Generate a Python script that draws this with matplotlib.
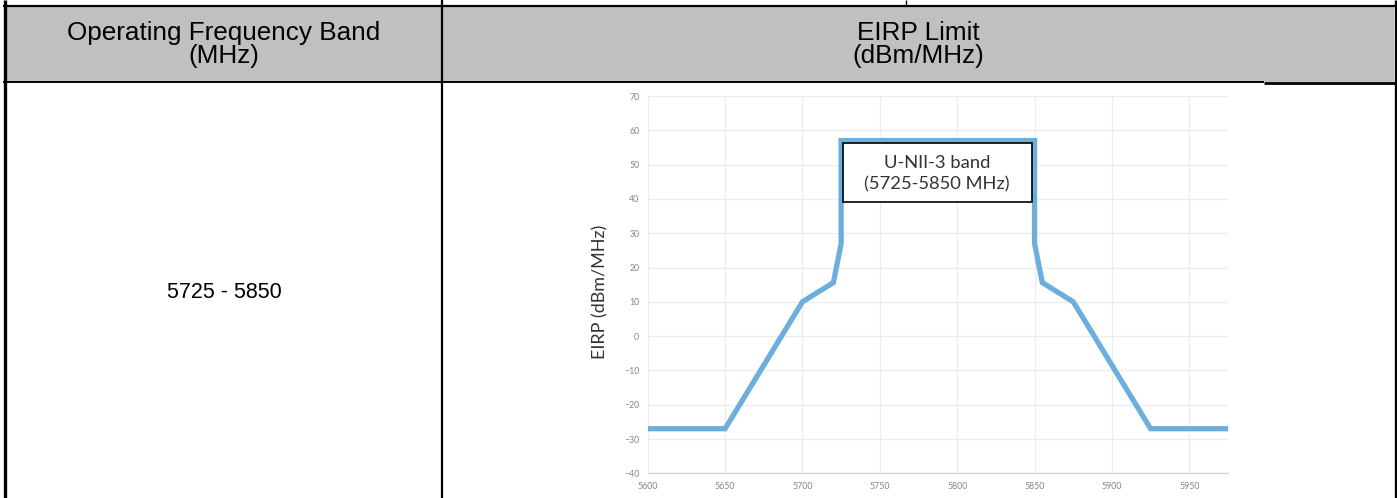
import matplotlib
matplotlib.use("Agg")
import matplotlib.pyplot as plt
from matplotlib.patches import Rectangle

# table text
col_headers = [("Operating Frequency Band", "(MHz)"), ("EIRP Limit", "(dBm/MHz)")]
band_label = "5725 - 5850"

# EIRP mask for U-NII-3
freq = [5600, 5650, 5700, 5720, 5725, 5725, 5850, 5850, 5855, 5875, 5925, 5975]
eirp = [-27, -27, 10, 15.6, 27, 57, 57, 27, 15.6, 10, -27, -27]
x_ticks = [5600, 5650, 5700, 5750, 5800, 5850, 5900, 5950]
y_ticks = [-40, -30, -20, -10, 0, 10, 20, 30, 40, 50, 60, 70]
box_text = "U-NII-3 band\n(5725-5850 MHz)"

W, H = 1397, 498
fig = plt.figure(figsize=(W / 100, H / 100), dpi=100)

# --- table drawn in pixel coordinates
tab = fig.add_axes([0, 0, 1, 1])
tab.set_xlim(0, W)
tab.set_ylim(H, 0)
tab.axis("off")

tab.add_patch(Rectangle((6, 7), 1388, 75, facecolor="#c0c0c0", edgecolor="none"))
k = dict(color="black", solid_capstyle="butt")
tab.plot([4.5, 4.5], [0, H], lw=2.4, **k)
tab.plot([1395.5, 1395.5], [0, H], lw=2.4, **k)
tab.plot([442, 442], [0, H], lw=1.6, **k)
tab.plot([906, 906], [0, 6], lw=1.0, **k)
tab.plot([3, 1397], [6, 6], lw=1.6, **k)
tab.plot([3, 1264], [82, 82], lw=1.4, **k)
tab.plot([1264, 1397], [83, 83], lw=2.0, **k)

hfont = dict(family="Liberation Sans", fontsize=18.8, color="black", ha="center")
tab.text(224, 40, col_headers[0][0], va="baseline", **hfont)
tab.text(224, 63, col_headers[0][1], va="baseline", **hfont)
tab.text(918, 40, col_headers[1][0], va="baseline", **hfont)
tab.text(918, 63, col_headers[1][1], va="baseline", **hfont)
tab.text(224, 292, band_label, va="center", family="Liberation Sans",
         fontsize=15.5, color="black", ha="center")

# --- the EIRP chart
ax = fig.add_axes([647.7 / W, 1 - 473.3 / H, (1228 - 647.7) / W, (473.3 - 96) / H])
ax.plot(freq, eirp, color="#6cafdc", lw=3.8, solid_joinstyle="miter", zorder=3)
ax.set_xlim(5600, 5975)
ax.set_ylim(-40, 70)
ax.set_xticks(x_ticks)
ax.set_yticks(y_ticks)
ax.grid(True, color="#ececec", lw=0.9)
ax.set_axisbelow(True)
for s in ["top", "right", "left"]:
    ax.spines[s].set_visible(False)
ax.spines["bottom"].set_color("#d6d6d6")
ax.spines["bottom"].set_linewidth(0.9)
ax.tick_params(length=0, labelsize=6.3, labelcolor="#858585", pad=6)
for lab in ax.get_xticklabels() + ax.get_yticklabels():
    lab.set_family("Lato")

ax.text(-0.082, 0.48, "EIRP (dBm/MHz)", transform=ax.transAxes, rotation=90,
        ha="center", va="center", family="Lato", fontsize=13, color="#333333")

ax.add_patch(Rectangle((5726, 39.2), 122.4, 17.0, facecolor="white",
                       edgecolor="black", lw=1.2, zorder=4))
ax.text(5787, 47.4, box_text, ha="center", va="center", family="Lato",
        fontsize=13.2, color="#333333", linespacing=1.45, zorder=5)

fig.savefig("out.png", dpi=100)
